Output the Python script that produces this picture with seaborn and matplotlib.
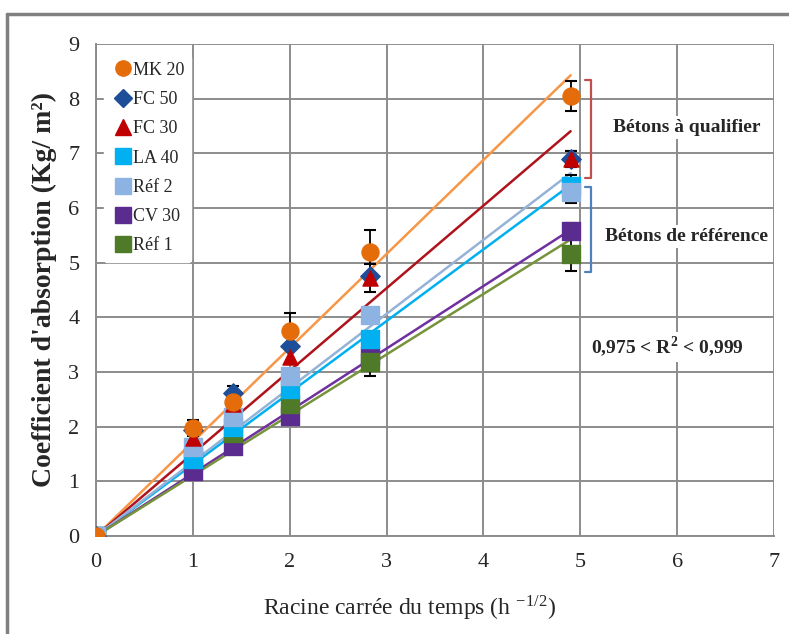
import numpy as np
import pandas as pd
import seaborn as sns
import matplotlib.pyplot as plt
from matplotlib.lines import Line2D

# data: racine du temps vs coefficient d'absorption
x = [0, 1, 1.41, 2, 2.83, 4.9]
series = ['MK 20', 'FC 50', 'FC 30', 'LA 40', 'Réf 2', 'CV 30', 'Réf 1']
mk20 = [0, 1.97, 2.45, 3.75, 5.20, 8.05]
fc50 = [0, 1.94, 2.62, 3.48, 4.75, 6.90]
fc30 = [0, 1.80, 2.42, 3.28, 4.72, 6.90]
la40 = [0, 1.40, 2.00, 2.68, 3.60, 6.40]
ref2 = [0, 1.62, 2.18, 2.92, 4.04, 6.30]
cv30 = [0, 1.18, 1.65, 2.20, 3.30, 5.58]
ref1 = [0, 1.45, 1.88, 2.42, 3.18, 5.15]
# error bars (+/-)
err_mk20 = [0, 0.15, 0, 0.33, 0.40, 0.27]
err_fc50 = [0, 0.10, 0.12, 0, 0, 0.15]
err_fc30 = [0, 0, 0, 0, 0.25, 0.15]
err_la40 = [0, 0, 0, 0, 0, 0.20]
err_ref2 = [0, 0, 0, 0, 0.10, 0.20]
err_cv30 = [0, 0, 0, 0, 0, 0.15]
err_ref1 = [0, 0, 0, 0, 0.25, 0.30]

values = [mk20, fc50, fc30, la40, ref2, cv30, ref1]
errors = [err_mk20, err_fc50, err_fc30, err_la40, err_ref2, err_cv30, err_ref1]
markers = ['o', 'D', '^', 's', 's', 's', 's']
colors = ['#E46C0A', '#1F4E99', '#C00000', '#00B0F0', '#8DB3E2', '#5B2C8F', '#4F7A28']
line_colors = ['#F79646', None, '#B0121B', '#00B0F0', '#95B3D7', '#7030A0', '#77933C']
msizes = [150, 100, 120, 150, 150, 150, 150]

sns.set_style("white")
plt.rcParams['font.family'] = ['Liberation Serif', 'DejaVu Serif']
plt.rcParams['mathtext.fontset'] = 'stix'

fig = plt.figure(figsize=(7.89, 6.34), dpi=100)
ax = fig.add_axes([0.1217, 0.1546, 0.8593, 0.776])

# fitted lines through the origin
xs = np.array(x)
for vals, lc in zip(values, line_colors):
    if lc is None:
        continue
    slope = np.sum(xs * np.array(vals)) / np.sum(xs ** 2)
    fit = pd.DataFrame({'x': [0, xs[-1]], 'y': [0, slope * xs[-1]]})
    sns.lineplot(data=fit, x='x', y='y', color=lc, lw=1.8, ax=ax, zorder=3)

# markers and error bars, drawn bottom to top
order = [5, 6, 3, 4, 1, 2, 0]
for i in order:
    df = pd.DataFrame({'x': x, 'y': values[i]})
    e = np.array(errors[i])
    m = e > 0
    ax.errorbar(xs[m], np.array(values[i])[m], yerr=e[m], fmt='none',
                ecolor='black', elinewidth=1.3, capsize=4, capthick=1.5, zorder=4)
    sns.scatterplot(data=df, x='x', y='y', marker=markers[i], color=colors[i],
                    edgecolor=colors[i], s=msizes[i], ax=ax, zorder=5, legend=False)

ax.set_xlim(0, 7)
ax.set_ylim(0, 9)
ax.set_xticks(range(0, 8))
ax.set_yticks(range(0, 10))
ax.grid(True, color='#8C8C8C', lw=1.4)
ax.set_axisbelow(True)
for s in ['top', 'right']:
    ax.spines[s].set_visible(False)
for s in ['left', 'bottom']:
    ax.spines[s].set_color('#8C8C8C')
    ax.spines[s].set_linewidth(1.4)
ax.tick_params(axis='both', direction='out', length=5, width=1.2, color='#8C8C8C',
               labelsize=16, pad=7)
ax.set_xlabel(r"Racine carrée du temps (h $^{\mathregular{-1/2}}$)", fontsize=17)
ax.xaxis.set_label_coords(0.463, -0.118)
ax.set_ylabel("Coefficient d'absorption (Kg/ m²)", fontsize=20, fontweight='bold', labelpad=8)

# legend
handles = [Line2D([], [], ls='none', marker=markers[i], color=colors[i],
                  markersize=11 if markers[i] != 'D' else 9) for i in range(7)]
leg = ax.legend(handles, series, loc='upper left', bbox_to_anchor=(-0.002, 0.997),
                frameon=True, fontsize=13, handletextpad=-0.1, labelspacing=0.68,
                borderpad=0.4, handlelength=1.3)
leg.get_frame().set_edgecolor('white')
leg.get_frame().set_facecolor('white')
leg.get_frame().set_alpha(1)

# brackets
ax.plot([5.05, 5.11, 5.11, 5.05], [8.34, 8.34, 6.55, 6.55], color='#C0504D', lw=1.6,
        clip_on=False, zorder=6)
ax.plot([5.05, 5.11, 5.11, 5.05], [6.38, 6.38, 4.83, 4.83], color='#4F81BD', lw=1.6,
        clip_on=False, zorder=6)

box = dict(facecolor='white', edgecolor='none', pad=2)
ax.text(6.1, 7.47, "Bétons à qualifier", ha='center', va='center', fontsize=14,
        fontweight='bold', bbox=box, zorder=7)
ax.text(6.1, 5.48, "Bétons de référence", ha='center', va='center', fontsize=14,
        fontweight='bold', bbox=box, zorder=7)
ax.text(5.9, 3.46, r"0,975 < R$^{\mathregular{2}}$ < 0,999", ha='center', va='center',
        fontsize=14, fontweight='bold', bbox=box, zorder=7)

# outer frame
fig.add_artist(Line2D([0.009, 1.0], [0.978, 0.978], color='#808080', lw=2.5))
fig.add_artist(Line2D([0.009, 0.009], [0.0, 0.978], color='#808080', lw=2.5))

fig.savefig('out.png', dpi=100)
